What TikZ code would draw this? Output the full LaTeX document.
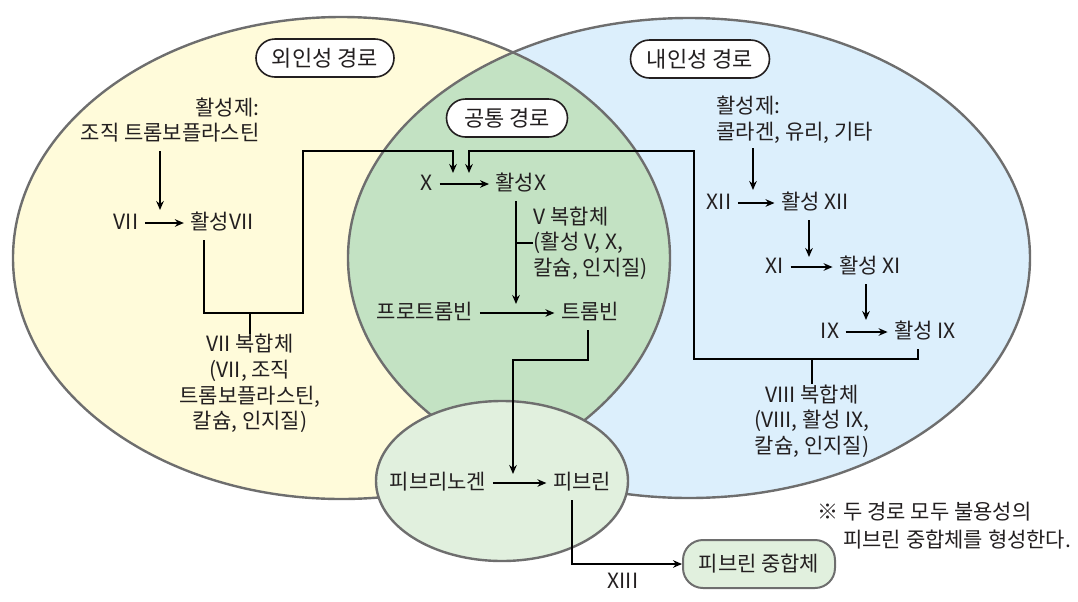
\documentclass[tikz,border=0pt]{standalone}
\usepackage{fontspec}
\setmainfont{Noto Sans CJK KR}
\usepackage{xcolor}
\usetikzlibrary{arrows.meta,positioning}
\definecolor{ink}{HTML}{231F20}
\definecolor{rim}{HTML}{6E6E6E}
\definecolor{extfill}{HTML}{FFFBDA}
\definecolor{intfill}{HTML}{DCEFFC}
\definecolor{comfill}{HTML}{C3E2C3}
\definecolor{fibfill}{HTML}{E1F0DE}
\newcommand{\extregion}{(341.5,258) ellipse [x radius=328.5, y radius=241]}
\newcommand{\intregion}{(689,258) ellipse [x radius=341, y radius=240]}
\tikzset{
  every picture/.style = {
    line width = 0.65pt,
    >={Stealth[length=4.5pt,width=3.8pt]},
  }
  ,
  region/.style = {
    draw = rim,
    line width = 1.2pt
  }
  , % clotting factors
  factor/.style = {
    text = ink,
    inner sep = 3pt,
    text height = 8.6pt,
    text depth = 1.8pt,
    font = \fontsize{10.5pt}{12.8pt}\selectfont
  }
  , % complexes, activators and remarks
  complex/.style = {
    text = ink,
    inner sep = 0pt,
    align = center,
    font = \fontsize{10.5pt}{12.8pt}\selectfont
  }
  , % titles of the pathways
  pathway/.style = {
    draw = ink,
    fill = white,
    line width = 0.8pt,
    rounded corners = 9.5pt,
    minimum height = 19pt,
    text = ink,
    font = \fontsize{11pt}{12pt}\selectfont
  }
  ,
  polymer/.style = {
    draw = rim,
    fill = fibfill,
    line width = 1pt,
    rounded corners = 10pt,
    minimum width = 76pt,
    minimum height = 24pt,
    text = ink,
    font = \fontsize{10.5pt}{12pt}\selectfont
  }
}

\begin{document}
\begin{tikzpicture}[x=0.5pt, y=-0.5pt]
    \useasboundingbox (0,0) rectangle (1078,601);
    % regions
    \fill [extfill] \extregion;
    \fill [intfill] \intregion;
    \begin{scope}
      \clip \extregion;
      \fill [comfill] \intregion;
    \end{scope}
    \draw [region] \extregion;
    \draw [region] \intregion;
    \draw [region, fill=fibfill] (502,481) ellipse [x radius=126, y radius=80];

    \node [pathway, minimum width=69pt] (ext-title) at (325,58) {외인성 경로};
    \node [pathway, minimum width=69.5pt] (int-title) at (700,59) {내인성 경로};
    \node [pathway, minimum width=60.5pt] (com-title) at (507,118) {공통 경로};

    % extrinsic pathway
    \node [complex, align=right, anchor=east] (ext-act) at (260,120) {활성제:\\조직 트롬보플라스틴};
    \node [factor] (f7) at (126,223) {VII};
    \node [factor] (a7) at (222,223) {활성VII};
    \node [complex] (c7) at (250,383.5) {VII 복합체\\(VII, 조직\\트롬보플라스틴,\\칼슘, 인지질)};
    \coordinate (ext-in) at (160,210);
    \coordinate (ext-low) at (303,313);
    \coordinate (ext-top) at (303,151);

    % intrinsic pathway
    \node [complex, align=left, anchor=west] (int-act) at (716,120) {활성제:\\콜라겐, 유리, 기타};
    \node [factor] (f12) at (719,203) {XII};
    \node [factor] (a12) at (815,203) {활성 XII};
    \node [factor] (f11) at (775,267) {XI};
    \node [factor] (a11) at (870,267) {활성 XI};
    \node [factor] (f9) at (830,332) {IX};
    \node [factor] (a9) at (925,332) {활성 IX};
    \node [complex] (c8) at (812,421) {VIII 복합체\\(VIII, 활성 IX,\\칼슘, 인지질)};
    \coordinate (int-in) at (753,190);
    \coordinate (in11) at (809,257);
    \coordinate (in9) at (866,320);
    \coordinate (int-low) at (694,359);
    \coordinate (int-top) at (694,151);

    % common pathway
    \node [factor] (f10) at (427,184) {X};
    \node [factor] (a10) at (521,184) {활성X};
    \node [complex, align=left, anchor=west] (c5) at (533,243) {V 복합체\\(활성 V, X,\\칼슘, 인지질)};
    \node [factor] (proth) at (425,313) {프로트롬빈};
    \node [factor] (thromb) at (590,313) {트롬빈};
    \node [factor] (fbg) at (438,483) {피브리노겐};
    \node [factor] (fbn) at (582,483) {피브린};
    \node [factor] (f13) at (623,582) {XIII};
    \node [polymer] (poly) at (759,564) {피브린 중합체};
    \coordinate (com-inl) at (453,173);
    \coordinate (com-inr) at (469,173);
    \coordinate (conv) at (516,304);
    \coordinate (t-knee) at (513,360);
    \coordinate (fbg-in) at (513,474);

    \node [complex, align=left, anchor=west, font=\fontsize{10.5pt}{14pt}\selectfont] (note) at (817,526)
      {※ 두 경로 모두 불용성의\\\phantom{※ }피브린 중합체를 형성한다.};

    % connectors
    \draw [->, shorten <=4pt] (ext-act.south -| ext-in) -- (ext-in);
    \path [->] (f7) edge (a7);
    \draw [->] ([xshift=-9pt]a7.south) |- (ext-low) -- (ext-top) -| (com-inl);
    \draw (c7.north) -- (c7.north |- ext-low);

    \draw [->, shorten <=2pt] (int-act.south -| int-in) -- (int-in);
    \path [->] (f12) edge (a12);
    \draw [->] (a12.south -| in11) -- (in11);
    \path [->] (f11) edge (a11);
    \draw [->] (a11.south -| in9) -- (in9);
    \path [->] (f9) edge (a9);
    \draw [->] ([xshift=-3.5pt]a9.south) |- (int-low) -- (int-top) -| (com-inr);
    \draw (c8.north) -- (c8.north |- int-low);

    \path [->] (f10) edge (a10);
    \draw [->] (a10.south -| conv) -- (conv);
    \draw (c5.west) -- (c5.west -| conv);
    \path [->] (proth) edge (thromb);
    \draw [->] ([xshift=-1pt]thromb.south) |- (t-knee) -- (fbg-in);
    \path [->] (fbg) edge (fbn);
    \draw [->] ([xshift=-5pt]fbn.south) |- (poly.west);
\end{tikzpicture}
\end{document}
